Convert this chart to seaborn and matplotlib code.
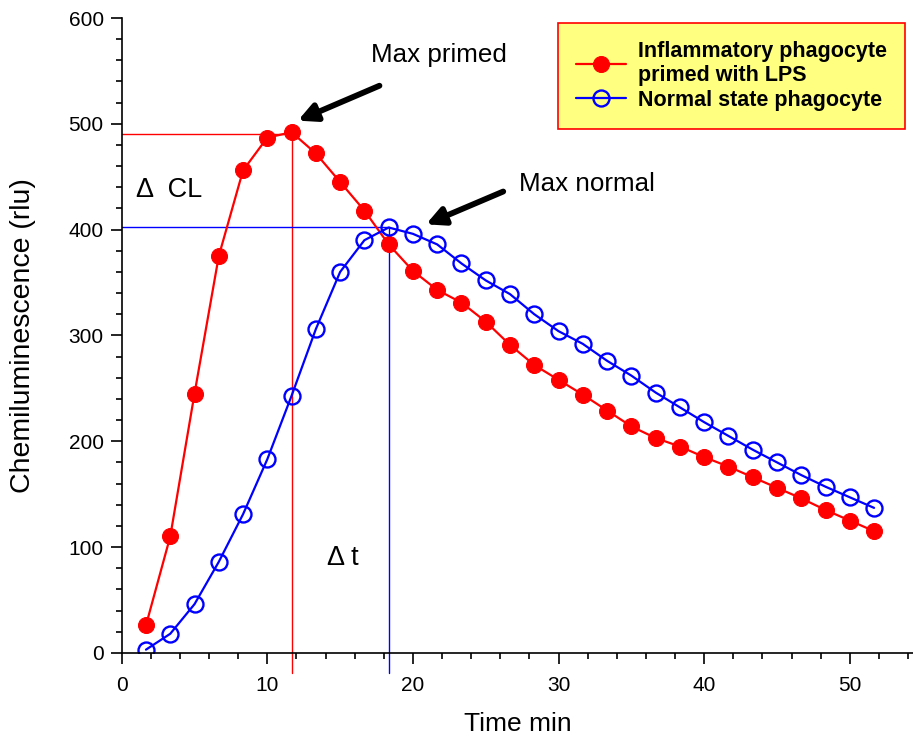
import numpy as np
import pandas as pd
import matplotlib
matplotlib.use('Agg')
import matplotlib.pyplot as plt
from matplotlib.ticker import MultipleLocator
import seaborn as sns

# readings every 100 s (5/3 min)
time_min = [k * 5 / 3 for k in range(1, 32)]

primed = [26, 110, 245, 375, 456, 487, 492, 472, 445, 418,
          386, 361, 343, 331, 313, 291, 272, 258, 244, 229,
          214, 203, 195, 185, 176, 166, 156, 146, 135, 125, 115]

normal = [3, 18, 46, 86, 131, 183, 243, 306, 360, 390,
          402, 396, 386, 368, 352, 339, 320, 304, 292, 276,
          262, 246, 232, 218, 205, 192, 180, 168, 157, 147, 137]

labels = ['Inflammatory phagocyte\nprimed with LPS', 'Normal state phagocyte']

df = pd.DataFrame({'time': time_min, 'primed': primed, 'normal': normal})

sns.set_style('ticks')
plt.rcParams['font.family'] = ['Liberation Sans', 'DejaVu Sans']
plt.rcParams['text.color'] = 'black'
plt.rcParams['axes.labelcolor'] = 'black'

fig = plt.figure(figsize=(9.13, 7.41), dpi=100)
ax = fig.add_axes([0.1333, 0.119, 0.8667, 0.8567])

sns.lineplot(data=df, x='time', y='primed', ax=ax, color='red', marker='o',
             markersize=11.5, markeredgecolor='red', linewidth=1.6, label=labels[0])
sns.lineplot(data=df, x='time', y='normal', ax=ax, color='blue', marker='o',
             markersize=11.5, markerfacecolor='none', markeredgecolor='blue',
             markeredgewidth=1.7, linewidth=1.6, label=labels[1])

# peak guide lines
i_p = int(np.argmax(primed))
i_n = int(np.argmax(normal))
ax.plot([0, time_min[i_p]], [primed[i_p] - 2, primed[i_p] - 2], color='red', lw=1, zorder=1)
ax.plot([time_min[i_p], time_min[i_p]], [-19, primed[i_p]], color='red', lw=1,
        zorder=1, clip_on=False)
ax.plot([0, time_min[i_n]], [normal[i_n], normal[i_n]], color='blue', lw=1, zorder=1)
ax.plot([time_min[i_n], time_min[i_n]], [-19, normal[i_n]], color='blue', lw=1,
        zorder=1, clip_on=False)

arrow = dict(arrowstyle='-|>', lw=4.2, color='black', mutation_scale=27,
             shrinkA=0, shrinkB=0)
ax.text(17.1, 565, 'Max primed', fontsize=18.7, va='center', ha='left')
ax.annotate('', xy=(12.1, 503), xytext=(17.7, 536), arrowprops=arrow)
ax.text(27.3, 443, 'Max normal', fontsize=18.7, va='center', ha='left')
ax.annotate('', xy=(20.9, 405), xytext=(26.2, 436), arrowprops=arrow)
ax.text(1.0, 437, 'Δ  CL', fontsize=19.5, va='center', ha='left')
ax.text(14.1, 90, 'Δ t', fontsize=19.5, va='center', ha='left')

ax.set_xlim(0, 54.34)
ax.set_ylim(0, 600)
ax.xaxis.set_major_locator(MultipleLocator(10))
ax.xaxis.set_minor_locator(MultipleLocator(2))
ax.yaxis.set_major_locator(MultipleLocator(100))
ax.yaxis.set_minor_locator(MultipleLocator(20))
ax.tick_params(which='major', length=8, width=1.2, labelsize=15, colors='black')
ax.tick_params(axis='x', which='major', pad=9)
ax.tick_params(axis='y', which='major', pad=5)
ax.tick_params(which='minor', length=4, width=1.2, colors='black')
ax.set_xlabel('Time min', fontsize=19, labelpad=12)
ax.set_ylabel('Chemiluminescence (rlu)', fontsize=20.5)
ax.yaxis.set_label_coords(-0.108, 0.5)
for side in ['top', 'right']:
    ax.spines[side].set_visible(False)
for side in ['left', 'bottom']:
    ax.spines[side].set_linewidth(1.2)
    ax.spines[side].set_color('black')

leg = ax.legend(loc='upper left', bbox_to_anchor=(558 / 913, 1 - 23 / 741),
                bbox_transform=fig.transFigure,
                prop={'weight': 'bold', 'size': 15.5}, fancybox=False,
                framealpha=1, facecolor='#FFFF80', edgecolor='red',
                handlelength=2.3, handletextpad=0.55, borderpad=0.85,
                labelspacing=0.15, borderaxespad=0)
leg.get_frame().set_linewidth(1.2)

plt.savefig('out.png', dpi=100)
